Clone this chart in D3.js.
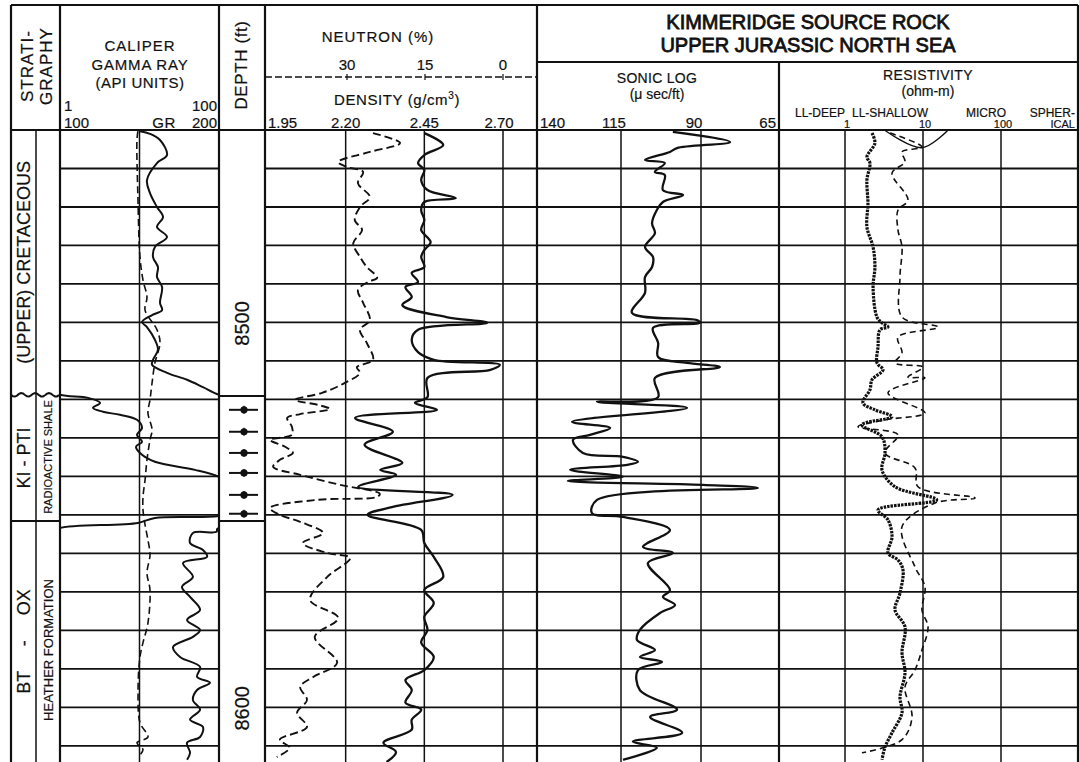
<!DOCTYPE html>
<html>
<head>
<meta charset="utf-8">
<script src="https://cdn.jsdelivr.net/npm/d3@7"></script>
<style>
  body { margin: 0; background: #fff; }
  svg text { font-family: "Liberation Sans", Arial, Helvetica, sans-serif; fill: #111; stroke: #111; stroke-width: 0.2px; }
</style>
</head>
<body>
<svg id="chart" width="1079" height="762"></svg>
<script>
// Kimmeridge source rock well log, Upper Jurassic North Sea.

const gammaRay = [
  [8450.3, 50.3], [8451.0, 56.6], [8452.6, 62.9], [8456.5, 67.3], [8458.6, 61.0],
  [8463.0, 54.7], [8466.4, 56.6], [8470.0, 61.0], [8472.6, 64.8], [8475.2, 61.0],
  [8477.8, 67.3], [8480.4, 59.7], [8483.0, 58.5], [8485.6, 61.6], [8488.2, 61.0],
  [8490.8, 64.2], [8494.9, 62.9], [8496.8, 64.2], [8498.1, 57.9], [8499.9, 51.6],
  [8501.2, 54.7], [8504.5, 59.7], [8507.1, 61.6], [8509.7, 58.5], [8511.0, 57.9],
  [8513.1, 67.3], [8514.9, 79.9], [8516.8, 89.9], [8518.8, 100.0], [8519.6, 117.6],
  [8520.9, 125.2], [8522.2, 120.8], [8523.2, 127.0], [8524.0, 137.7], [8525.3, 148.4],
  [8527.4, 151.6], [8529.2, 148.4], [8531.0, 151.6], [8532.3, 147.8], [8534.4, 151.6],
  [8536.2, 159.7], [8538.3, 184.9], [8540.1, 200.0], [8543.5, 215], [8548.7, 215],
  [8550.3, 200.0], [8550.8, 159.7], [8552.1, 149.0], [8553.6, 99.0], [8554.4, 98.5],
  [8554.7, 83.6], [8557.3, 81.8], [8559.1, 89.9], [8560.9, 92.5], [8562.5, 77.4],
  [8566.1, 83.6], [8568.7, 76.7], [8571.3, 81.8], [8574.7, 88.1], [8577.3, 79.9],
  [8579.9, 88.1], [8581.7, 83.6], [8584.3, 71.1], [8586.9, 75.5], [8589.5, 88.1],
  [8592.1, 86.2], [8593.6, 94.3], [8595.5, 86.2], [8598.1, 83.6], [8600.6, 88.1],
  [8603.2, 81.8], [8605.1, 89.9], [8607.7, 88.1], [8609.2, 79.9], [8611.8, 81.8],
  [8613.6, 79.9]
];

const caliper = [
  [8450.3, 10.9], [8452.6, 10.84], [8467.4, 10.9], [8483.0, 11.03], [8489.0, 11.22],
  [8493.4, 11.47], [8496.8, 11.35], [8501.9, 12.10], [8505.3, 12.29], [8510.5, 11.97],
  [8515.7, 11.79], [8520.1, 11.66], [8523.5, 11.53], [8527.9, 11.79], [8530.5, 11.66],
  [8535.7, 11.47], [8540.9, 11.35], [8545.3, 11.22], [8548.7, 11.22], [8552.6, 11.35],
  [8556.5, 11.53], [8560.4, 11.66], [8565.1, 11.47], [8569.5, 11.66], [8578.1, 11.53],
  [8583.2, 11.22], [8586.9, 11.03], [8595.5, 10.91], [8604.0, 11.03], [8607.7, 11.53],
  [8609.2, 10.84], [8611.0, 11.22], [8612.9, 10.91]
];

const density = [
  [8450.8, 2.45], [8453.9, 2.51], [8456.5, 2.45], [8458.6, 2.43], [8460.4, 2.45],
  [8463.0, 2.44], [8465.6, 2.46], [8467.7, 2.55], [8468.7, 2.45], [8470.8, 2.44],
  [8473.4, 2.45], [8476.0, 2.44], [8479.1, 2.47], [8481.2, 2.45], [8483.0, 2.44],
  [8485.6, 2.45], [8487.1, 2.41], [8489.5, 2.43], [8490.8, 2.39], [8493.4, 2.41],
  [8495.5, 2.38], [8498.6, 2.52], [8500.1, 2.65], [8501.9, 2.43], [8504.5, 2.41],
  [8507.7, 2.43], [8509.7, 2.48], [8511.0, 2.69], [8512.3, 2.66], [8514.4, 2.46],
  [8519.4, 2.46], [8520.9, 2.42], [8522.7, 2.49], [8524.8, 2.23], [8528.4, 2.35],
  [8531.8, 2.26], [8536.5, 2.38], [8538.3, 2.31], [8539.6, 2.36], [8542.7, 2.24],
  [8544.8, 2.54], [8547.9, 2.35], [8550.0, 2.27], [8553.9, 2.44], [8557.3, 2.45],
  [8560.9, 2.48], [8566.1, 2.51], [8569.5, 2.45], [8572.9, 2.48], [8576.5, 2.45],
  [8579.9, 2.46], [8583.2, 2.44], [8586.9, 2.48], [8590.3, 2.45], [8592.9, 2.39],
  [8595.5, 2.41], [8598.8, 2.39], [8600.6, 2.44], [8603.2, 2.41], [8605.8, 2.41],
  [8609.2, 2.32], [8611.6, 2.36], [8614.2, 2.33]
];

const neutron = [
  [8450.8, 25.0], [8453.4, 19.8], [8455.7, 25.6], [8458.3, 31.7], [8459.6, 30.0],
  [8460.9, 26.9], [8463.8, 27.9], [8467.4, 25.6], [8470.0, 27.5], [8473.4, 28.5],
  [8476.0, 27.1], [8479.4, 28.8], [8483.0, 27.5], [8485.6, 26.2], [8488.4, 24.2],
  [8489.5, 26.0], [8491.6, 27.9], [8494.9, 26.9], [8499.4, 25.6], [8501.9, 27.5],
  [8505.3, 26.2], [8509.7, 25.0], [8511.6, 28.1], [8513.1, 27.5], [8515.7, 30.4],
  [8518.3, 34.8], [8520.1, 40.0], [8521.4, 35.6], [8522.5, 33.3], [8523.8, 39.0],
  [8524.8, 41.5], [8527.1, 40.6], [8529.2, 40.6], [8530.5, 44.8], [8532.3, 41.9],
  [8533.9, 40.4], [8535.7, 42.9], [8537.5, 44.2], [8539.6, 39.0], [8542.2, 31.3],
  [8544.5, 23.7], [8545.3, 24.2], [8546.1, 35.8], [8548.2, 44.8], [8550.0, 42.9],
  [8551.8, 39.0], [8554.7, 34.6], [8557.3, 38.5], [8559.9, 33.8], [8561.2, 29.4],
  [8566.1, 33.8], [8572.1, 37.1], [8576.8, 31.7], [8581.7, 36.2], [8588.4, 31.9],
  [8592.1, 36.5], [8594.7, 39.0], [8598.1, 37.7], [8601.4, 39.6], [8605.1, 37.7],
  [8608.4, 42.9], [8610.5, 41.0], [8612.9, 43.5]
];

const sonic = [
  [8450.5, 98.8], [8453.1, 80.9], [8454.7, 97.5], [8455.7, 99.7], [8457.8, 107.5],
  [8458.6, 101.3], [8460.9, 104.4], [8461.7, 101.3], [8465.6, 101.9], [8466.9, 95.6],
  [8468.7, 101.9], [8470.8, 103.8], [8474.2, 105.3], [8476.8, 104.4], [8480.4, 107.5],
  [8483.0, 105.0], [8485.6, 105.3], [8488.2, 107.5], [8492.3, 107.5], [8497.5, 111.6],
  [8499.4, 91.3], [8500.1, 90.3], [8501.4, 105.0], [8505.3, 103.4], [8509.0, 103.4],
  [8510.5, 94.4], [8511.6, 84.1], [8514.4, 104.4], [8519.4, 103.4], [8520.6, 122.5],
  [8522.2, 94.4], [8525.8, 130.3], [8527.4, 118.4], [8529.2, 124.7], [8530.5, 130.0],
  [8533.9, 126.9], [8534.9, 114.4], [8536.2, 109.7], [8537.0, 113.1], [8538.3, 130.9],
  [8540.1, 114.4], [8541.2, 131.6], [8542.2, 89.4], [8543.0, 72.2], [8546.1, 122.5],
  [8549.5, 124.1], [8550.5, 114.4], [8553.9, 99.7], [8558.3, 108.1], [8559.9, 98.8],
  [8562.5, 106.6], [8569.5, 99.7], [8571.3, 101.9], [8573.4, 98.1], [8575.5, 102.8],
  [8579.9, 109.1], [8582.5, 110.0], [8585.1, 104.4], [8586.9, 109.1], [8588.2, 102.2],
  [8590.3, 109.7], [8595.5, 109.1], [8600.6, 97.5], [8602.5, 105.9], [8606.6, 95.9],
  [8608.9, 111.3], [8610.5, 103.8], [8613.6, 114.4]
];

const llDeep = [
  [8450.8, 2.22], [8453.4, 2.42], [8457.0, 1.91], [8458.6, 2.09], [8463.0, 1.91],
  [8469.0, 1.97], [8475.2, 1.91], [8480.4, 2.29], [8485.6, 2.42], [8490.8, 2.29],
  [8498.6, 2.57], [8500.1, 2.98], [8501.2, 3.56], [8501.9, 2.81], [8506.4, 2.65],
  [8510.5, 2.57], [8512.3, 3.07], [8514.9, 2.22], [8517.5, 2.09], [8520.9, 1.70],
  [8522.7, 2.42], [8524.5, 4.01], [8526.6, 1.65], [8529.7, 2.98], [8533.9, 3.26],
  [8538.3, 2.98], [8542.7, 4.38], [8546.1, 15.0], [8548.7, 2.65], [8551.3, 3.56],
  [8555.7, 4.01], [8559.9, 3.56], [8561.7, 4.78], [8564.3, 5.54], [8570.3, 5.07],
  [8574.7, 4.38], [8579.1, 5.88], [8585.8, 5.38], [8591.0, 5.88], [8597.3, 5.07],
  [8601.4, 5.38], [8606.6, 4.01], [8610.3, 3.26], [8613.6, 2.98]
];

const micro = [
  [8450.8, 3.78], [8454.4, 9.70], [8455.7, 5.38], [8458.3, 5.88], [8461.2, 4.01],
  [8468.2, 6.42], [8470.8, 4.78], [8476.0, 4.78], [8480.4, 5.38], [8488.2, 5.07],
  [8498.6, 5.38], [8501.2, 15.6], [8503.8, 4.78], [8507.9, 5.38], [8510.5, 4.38],
  [8511.6, 10.0], [8514.2, 6.42], [8514.4, 10.6], [8518.3, 3.56], [8523.5, 10.6],
  [8525.3, 3.26], [8527.1, 1.47], [8529.2, 4.78], [8533.9, 3.26], [8537.8, 7.89],
  [8542.7, 8.63], [8545.6, 46.4], [8546.9, 14.3], [8553.1, 5.38], [8563.5, 7.89],
  [8568.7, 10.6], [8574.7, 9.70], [8579.1, 11.6], [8585.1, 9.70], [8590.3, 7.89],
  [8594.7, 5.88], [8602.5, 7.23], [8608.4, 5.38], [8611.8, 1.65]
];

const spherical = [[8450.2, 3.3], [8454.6, 9.7], [8450.0, 21.0]];

const sampleDepths = [8522.7, 8528.4, 8533.9, 8539.1, 8544.8, 8549.7];
const depthLabels = [8500, 8600];

const stratUnits = [
  { name: "(UPPER) CRETACEOUS", sub: "", top: 8450, base: 8518.8 },
  { name: "KI - PTI", sub: "RADIOACTIVE SHALE", top: 8518.8, base: 8551.6 },
  { name: "BT     -     OX", sub: "HEATHER FORMATION", top: 8551.6, base: 8614.2 }
];

const grTicksTop = ["1", "100"];
const grTicksBottom = ["100", "GR", "200"];
const neutronTicks = [30, 15, 0];
const densityTicks = [1.95, 2.20, 2.45, 2.70];
const sonicTicks = [140, 115, 90, 65];
const resTicks = [1, 10, 100];
const resCurveNames = ["LL-DEEP", "LL-SHALLOW", "MICRO", "SPHER-"];

// ---------------------------------------------------------------------------
const svg = d3.select("#chart");
const TOP = 130, BOT = 762, HEAD = 5;
const track = {
  strat: [11, 60], gr: [60, 219], depth: [219, 265],
  nd: [265, 537], sonic: [537, 779], res: [779, 1078]
};

const y = d3.scaleLinear().domain([8450, 8614.2]).range([TOP, BOT]);
const grP = d3.scaleLinear().domain([0, 100]).range([60, 219]);
const grB = d3.scaleLinear().domain([100, 200]).range([60, 219]);
const cal = d3.scaleLinear().domain([6, 16]).range([60, 219]);
const den = d3.scaleLinear().domain([1.95, 2.70]).range([267, 503]);
const neu = d3.scaleLinear().domain([30, 0]).range([347, 503]);
const son = d3.scaleLinear().domain([140, 65]).range([541, 781]);
const res = d3.scaleLog().domain([1, 1000]).range([845, 1079]);

const ink = "#111";
const defs = svg.append("defs");
Object.entries(track).forEach(([k, [x0, x1]]) => {
  defs.append("clipPath").attr("id", "clip-" + k)
    .append("rect").attr("x", x0).attr("y", TOP).attr("width", x1 - x0).attr("height", BOT - TOP);
});

svg.append("rect").attr("width", 1079).attr("height", 762).attr("fill", "#fff");

// grid: horizontal lines every 10 ft in the curve tracks
const gridDepths = d3.range(8460, 8614, 10);
const grid = svg.append("g").attr("stroke", ink).attr("stroke-width", 1.8);
["gr", "nd", "sonic", "res"].forEach((k) => {
  const [x0, x1] = track[k];
  grid.selectAll(null).data(gridDepths).join("line")
    .attr("x1", x0).attr("x2", x1).attr("y1", (d) => y(d)).attr("y2", (d) => y(d));
});
// vertical division lines inside tracks
const vlines = [grP(50), den(2.20), den(2.45), den(2.70), son(115), son(90), res(1), res(10), res(100)];
grid.selectAll(null).data(vlines).join("line")
  .attr("x1", (d) => d).attr("x2", (d) => d).attr("y1", TOP).attr("y2", BOT)
  .attr("stroke-width", 1.5);

// frame
const frame = svg.append("g").attr("stroke", ink).attr("stroke-width", 2.2).attr("fill", "none");
[11, 60, 219, 265, 537, 1078].forEach((x) => {
  frame.append("line").attr("x1", x).attr("x2", x).attr("y1", HEAD).attr("y2", BOT);
});
frame.append("line").attr("x1", 779).attr("x2", 779).attr("y1", 62).attr("y2", BOT);
frame.append("line").attr("x1", 36).attr("x2", 36).attr("y1", TOP).attr("y2", BOT).attr("stroke-width", 1.5);
frame.append("line").attr("x1", 11).attr("x2", 1078).attr("y1", HEAD).attr("y2", HEAD);
frame.append("line").attr("x1", 11).attr("x2", 1078).attr("y1", TOP).attr("y2", TOP);
frame.append("line").attr("x1", 537).attr("x2", 1078).attr("y1", 62).attr("y2", 62);

// ---------------------------------------------------------------------------
// header
const hdr = svg.append("g");
function txt(x, yy, s, size, anchor, rot, ls) {
  const t = hdr.append("text").attr("font-size", size).attr("text-anchor", anchor || "middle");
  if (ls) t.attr("letter-spacing", ls);
  if (rot) {
    t.attr("transform", `translate(${x},${yy}) rotate(-90)`).attr("dominant-baseline", "central");
  } else {
    t.attr("x", x).attr("y", yy);
  }
  t.text(s);
  return t;
}
txt(27, 66, "STRATI-", 17, "middle", true, 1);
txt(46, 66, "GRAPHY", 17, "middle", true, 1);
txt(140, 51, "CALIPER", 15, "middle", false, 1);
txt(140, 70, "GAMMA RAY", 15, "middle", false, 0.8);
txt(140, 88, "(API UNITS)", 15, "middle", false, 0.5);
txt(64, 111, grTicksTop[0], 15, "start");
txt(217, 111, grTicksTop[1], 15, "end");
txt(64, 128, grTicksBottom[0], 15, "start");
txt(164, 128, grTicksBottom[1], 15, "middle", false, 0.5);
txt(217, 128, grTicksBottom[2], 15, "end");
txt(241, 65, "DEPTH (ft)", 17, "middle", true, 0.6);

txt(378, 42, "NEUTRON (%)", 15, "middle", false, 1);
neutronTicks.forEach((v) => txt(neu(v), 70, String(v), 15));
hdr.append("line").attr("x1", 265).attr("x2", 537).attr("y1", 77).attr("y2", 77)
  .attr("stroke", ink).attr("stroke-width", 1.6).attr("stroke-dasharray", "7,3");
neutronTicks.forEach((v) => {
  hdr.append("line").attr("x1", neu(v)).attr("x2", neu(v)).attr("y1", 74).attr("y2", 80)
    .attr("stroke", ink).attr("stroke-width", 1.2);
});
const dt = txt(397, 105, "DENSITY (g/cm", 15, "middle", false, 0.6);
dt.append("tspan").attr("font-size", 10).attr("dy", -6).text("3");
dt.append("tspan").attr("dy", 6).text(")");
densityTicks.forEach((v, i) => {
  txt(i === 0 ? 268 : den(v) - (i === 3 ? 4 : 0), 128, v.toFixed(2), 15, i === 0 ? "start" : "middle");
});

txt(808, 29, "KIMMERIDGE SOURCE ROCK", 20).style("stroke-width", "0.8px");
txt(808, 52, "UPPER JURASSIC NORTH SEA", 20).style("stroke-width", "0.8px");

txt(657, 83, "SONIC LOG", 14, "middle", false, 0.3);
txt(657, 99, "(\u03BC sec/ft)", 14);
sonicTicks.forEach((v, i) => {
  const x = i === 0 ? 540 : i === 3 ? 776 : son(v) - 7;
  txt(x, 128, String(v), 15, i === 0 ? "start" : i === 3 ? "end" : "middle");
});

txt(928, 80, "RESISTIVITY", 14, "middle", false, 0.4);
txt(928, 96, "(ohm-m)", 14);
txt(845, 117, resCurveNames[0], 12, "end");
txt(852, 117, resCurveNames[1], 12, "start");
txt(966, 117, resCurveNames[2], 12, "start");
txt(1075, 117, resCurveNames[3], 12, "end");
resTicks.forEach((v) => txt(res(v) + 2, 128, String(v), 11));
txt(1075, 128, "ICAL", 11, "end");

// ---------------------------------------------------------------------------
// stratigraphy column
const strat = svg.append("g");
const subMid = [0, 457, 650];
stratUnits.forEach((u, i) => {
  const mid = (y(u.top) + y(u.base)) / 2;
  strat.append("text").attr("font-size", 18).attr("text-anchor", "middle")
    .attr("dominant-baseline", "central")
    .attr("transform", `translate(24,${mid}) rotate(-90)`)
    .attr("xml:space", "preserve").style("white-space", "pre").text(u.name);
  if (u.sub) {
    strat.append("text").attr("font-size", i === 1 ? 11 : 13).attr("text-anchor", "middle")
      .attr("dominant-baseline", "central")
      .attr("transform", `translate(48,${subMid[i]}) rotate(-90)`).text(u.sub);
  }
});
// unconformity (wavy) and formation boundary
const yU = y(stratUnits[0].base);
const wave = d3.range(11, 61, 2).map((x) => [x, yU + 1.8 * Math.sin((x - 11) / 2.2)]);
strat.append("path").attr("d", d3.line()(wave)).attr("fill", "none").attr("stroke", ink).attr("stroke-width", 2);
strat.append("line").attr("x1", 11).attr("x2", 60)
  .attr("y1", y(stratUnits[1].base)).attr("y2", y(stratUnits[1].base))
  .attr("stroke", ink).attr("stroke-width", 2);

// depth track
const dg = svg.append("g");
depthLabels.forEach((d) => {
  dg.append("text").attr("font-size", 20).attr("text-anchor", "middle")
    .attr("dominant-baseline", "central")
    .attr("transform", `translate(242,${y(d) + 1}) rotate(-90)`).text(d);
});
[stratUnits[1].top + 0.3, stratUnits[1].base].forEach((d) => {
  dg.append("line").attr("x1", 219).attr("x2", 265).attr("y1", y(d)).attr("y2", y(d))
    .attr("stroke", ink).attr("stroke-width", 2);
});
const sm = dg.selectAll("g.sample").data(sampleDepths).join("g").attr("class", "sample")
  .attr("transform", (d) => `translate(244,${y(d)})`);
sm.append("line").attr("x1", -15).attr("x2", 14).attr("stroke", ink).attr("stroke-width", 2);
sm.append("line").attr("y1", -4).attr("y2", 4).attr("stroke", ink).attr("stroke-width", 1.2);
sm.append("circle").attr("r", 3.6).attr("fill", ink);

// ---------------------------------------------------------------------------
// curves
function curve(data, xs, clip, opts) {
  const line = d3.line().x((d) => xs(d[1])).y((d) => y(d[0])).curve(d3.curveCatmullRom.alpha(0.5));
  svg.append("path").datum(data).attr("clip-path", `url(#clip-${clip})`)
    .attr("d", line).attr("fill", "none").attr("stroke", ink)
    .attr("stroke-width", opts.w || 2)
    .attr("stroke-dasharray", opts.dash || null)
    .attr("stroke-linejoin", "round");
}
curve(caliper, cal, "gr", { w: 1.6, dash: "7,4" });
curve(gammaRay, grP, "gr", { w: 2 });
curve(gammaRay, grB, "gr", { w: 2 });
curve(neutron, neu, "nd", { w: 1.9, dash: "8,4" });
curve(density, den, "nd", { w: 2.3 });
curve(sonic, son, "sonic", { w: 2.3 });
curve(micro, res, "res", { w: 1.6, dash: "6,4" });
curve(spherical, res, "res", { w: 1.4 });
curve(llDeep, res, "res", { w: 3.2, dash: "2.5,1" });
</script>
</body>
</html>
